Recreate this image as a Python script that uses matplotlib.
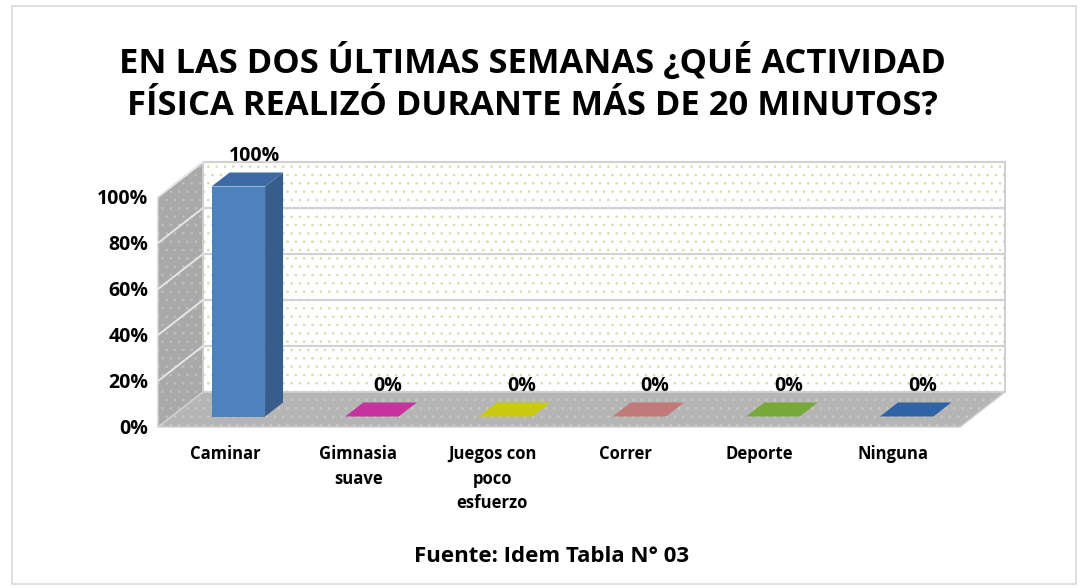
import matplotlib
matplotlib.use('Agg')
import matplotlib.pyplot as plt
from matplotlib.patches import Polygon, Rectangle

# data
categories = ['Caminar', 'Gimnasia\nsuave', 'Juegos con\npoco\nesfuerzo', 'Correr', 'Deporte', 'Ninguna']
values = [100, 0, 0, 0, 0, 0]
y_ticks = [0, 20, 40, 60, 80, 100]
y_tick_labels = ['0%', '20%', '40%', '60%', '80%', '100%']
title = 'EN LAS DOS ÚLTIMAS SEMANAS ¿QUÉ ACTIVIDAD\nFÍSICA REALIZÓ DURANTE MÁS DE 20 MINUTOS?'
source = 'Fuente: Idem Tabla N° 03'

front_colors = ['#4f81bd', '#c4339e', '#c9c910', '#c07a7a', '#77a83a', '#2f63a5']
side_colors = ['#385d8a', '#8f2473', '#939309', '#8c5858', '#56792a', '#224878']
top_colors = ['#3d6aa3', '#c4339e', '#c9c910', '#c07a7a', '#77a83a', '#2f63a5']

plt.rcParams['font.family'] = ['Open Sans', 'DejaVu Sans']
plt.rcParams['hatch.linewidth'] = 0.6

W, H = 1080, 588
fig = plt.figure(figsize=(W / 100, H / 100), dpi=100)
fig.patch.set_facecolor('white')
fig.patches.append(Rectangle((12 / W, 4 / H), 1064 / W, 578 / H, transform=fig.transFigure,
                             fill=False, edgecolor='#d9d9d9', linewidth=1.2))

# front plane of the 3d box, in pixels
left, right, bottom, top = 158, 960, 427, 197
ax = fig.add_axes([left / W, 1 - bottom / H, (right - left) / W, (bottom - top) / H])
n = len(categories)
ax.set_xlim(0, n)
ax.set_ylim(0, 100)
for s in ax.spines.values():
    s.set_visible(False)
ax.set_facecolor('none')

# depth offset (whole box depth) in data units
DX = 45 / ((right - left) / n)
DY = 35 / ((bottom - top) / 100)


def P(x, y, d):
    return (x + d * DX, y + d * DY)


def face(pts, fc, ec='none', hatch=None, lw=0, z=1):
    ax.add_patch(Polygon([P(*p) for p in pts], closed=True, facecolor=fc, edgecolor=ec,
                         hatch=hatch, linewidth=lw, zorder=z, clip_on=False))


ymax = 100
# walls with dotted pattern
face([(0, 0, 1), (n, 0, 1), (n, ymax, 1), (0, ymax, 1)], 'white', ec='#d3ddb0', hatch='..', z=1)
face([(0, 0, 0), (0, 0, 1), (0, ymax, 1), (0, ymax, 0)], '#a9a9a9', ec='#bfc3b2', hatch='..', z=1)
face([(0, 0, 0), (n, 0, 0), (n, 0, 1), (0, 0, 1)], '#b5b5b5', ec='#c9cdb9', hatch='..', z=1)

# outlines
face([(0, 0, 1), (n, 0, 1), (n, ymax, 1), (0, ymax, 1)], 'none', ec='#c8c8c8', lw=1.2, z=2)
face([(0, 0, 0), (0, 0, 1), (0, ymax, 1), (0, ymax, 0)], 'none', ec='#d0d0d0', lw=1.0, z=2)
face([(0, 0, 0), (n, 0, 0), (n, 0, 1), (0, 0, 1)], 'none', ec='#d0d0d0', lw=1.0, z=2)

# gridlines
for t in y_ticks[1:]:
    x0, y0 = P(0, t, 1)
    x1, y1 = P(n, t, 1)
    ax.plot([x0, x1], [y0, y1], color='#d2d2d2', lw=1.6, zorder=2, clip_on=False)
    xs0, ys0 = P(0, t, 0)
    ax.plot([xs0, x0], [ys0, y0], color='#e6e6e6', lw=1.4, zorder=2, clip_on=False)

# bars
w = 0.2
d0, d1 = 0.3, 0.7
for i, v in enumerate(values):
    xc = i + 0.5
    face([(xc - w, 0, d0), (xc + w, 0, d0), (xc + w, v, d0), (xc - w, v, d0)], front_colors[i], z=3)
    face([(xc + w, 0, d0), (xc + w, 0, d1), (xc + w, v, d1), (xc + w, v, d0)], side_colors[i], z=3)
    face([(xc - w, v, d0), (xc + w, v, d0), (xc + w, v, d1), (xc - w, v, d1)], top_colors[i], z=4)
    lx, ly = P(xc, v, 0.65)
    ax.annotate('%d%%' % v, (lx, ly), xytext=(0, 6), textcoords='offset points',
                ha='center', va='bottom', fontsize=14, fontweight='bold', zorder=5,
                annotation_clip=False)

ax.set_xticks([i + 0.5 for i in range(n)])
ax.set_xticklabels(categories, fontsize=12, fontweight='bold', linespacing=1.48, va='top')
ax.set_yticks(y_ticks)
ax.set_yticklabels(y_tick_labels, fontsize=14, fontweight='bold')
ax.tick_params(axis='x', length=0, pad=13)
ax.tick_params(axis='y', length=0, pad=7)

fig.text(532 / W, 1 - 83 / H, title, ha='center', va='center', fontsize=24.8, fontweight='bold',
         linespacing=1.3)
fig.text(552 / W, 1 - 557 / H, source, ha='center', va='center', fontsize=16, fontweight='bold')

fig.savefig('out.png', dpi=100, facecolor='white')
